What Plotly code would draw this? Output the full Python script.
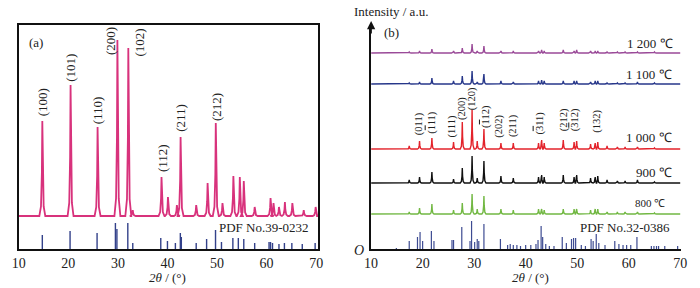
import plotly.graph_objects as go

W, H = 700, 288

# ---------------- Panel (a) data ----------------
a_peak_pos = [14.75, 20.45, 25.9, 29.9, 32.1, 33.0, 38.8, 40.1, 41.9, 42.65, 45.8, 48.1,
              49.75, 51.1, 53.3, 54.6, 55.4, 57.6, 60.8, 61.4, 62.5, 63.7, 65.2, 67.5, 69.9]
a_peak_int = [95, 131, 89, 176, 168, 6, 39, 19, 11, 79, 11, 33,
              93, 13, 40, 39, 35, 9, 18, 13, 9, 14, 13, 6, 9]
a_baseline = 33

a_stick_pos = [14.75, 20.35, 25.8, 29.5, 29.8, 32.0, 33.0, 38.65, 40.0, 41.6, 42.6, 42.8,
               45.8, 47.9, 49.7, 50.9, 53.2, 54.3, 55.4, 57.6, 60.5, 60.8, 61.2, 62.5,
               63.6, 65.1, 67.2, 69.8]
a_stick_int = [14, 18, 16, 26, 20, 26, 6, 11, 8, 6, 16, 12,
               6, 10, 19, 7, 11, 11, 10, 6, 7, 7, 6, 5,
               6, 6, 5, 6]

a_labels = ["(100)", "(101)", "(110)", "(200)", "(102)", "(112)", "(211)", "(212)"]

# ---------------- Panel (b) data ----------------
b_peak_pos = [17.4, 19.4, 21.8, 26.0, 27.7, 29.6, 30.6, 31.9, 35.2, 37.6, 42.5, 43.1,
              43.6, 47.3, 49.4, 49.9, 52.6, 53.5, 54.0, 55.8, 57.8, 59.3, 61.7, 65.0]
b_int_1000 = [3, 8, 11, 7, 27, 39, 8, 20, 6, 6, 6, 9, 6, 9, 7, 8, 5, 6, 7, 3, 2, 2, 2, 1]
b_int_900 = [3, 6, 11, 4, 15, 27, 5, 22, 7, 5, 6, 8, 6, 8, 6, 8, 5, 6, 7, 3, 2, 2, 3, 1]
b_int_800 = [2, 6, 10, 4, 11, 20, 5, 18, 5, 4, 5, 5, 4, 5, 5, 5, 4, 5, 5, 2, 2, 2, 2, 1]
b_int_1100 = [1, 2, 6, 3, 8, 13, 2, 10, 3, 2, 3, 4, 3, 3, 3, 3, 2, 3, 3, 1, 1, 1, 2, 1]
b_int_1200 = [1, 2, 4, 2, 5, 9, 2, 7, 2, 2, 2, 3, 2, 3, 2, 3, 2, 2, 2, 1, 1, 1, 1, 1]

b_series_names = ["1 200 ℃", "1 100 ℃", "1 000 ℃", "900 ℃", "800 ℃"]
b_offsets = [196, 165, 100, 66, 35]

b_stick_pos = [14.9, 17.4, 19.0, 19.5, 20.0, 21.7, 22.2, 25.7, 26.0, 27.6, 29.2, 29.5,
               30.1, 30.6, 30.9, 31.9, 35.1, 36.5, 37.0, 37.6, 38.3, 39.0, 40.0, 41.0,
               42.0, 42.4, 43.0, 43.3, 43.9, 44.6, 45.5, 47.1, 47.9, 48.9, 49.3, 49.7,
               50.8, 51.6, 52.7, 53.1, 53.7, 54.2, 55.4, 57.3, 58.1, 58.9, 59.6, 60.4,
               61.6, 64.4, 64.9, 65.4, 65.8, 67.0, 69.5]
b_stick_int = [1, 8, 12, 17, 8, 18, 8, 9, 9, 22, 8, 28,
               7, 10, 8, 25, 10, 4, 5, 4, 4, 3, 4, 4,
               5, 9, 23, 12, 5, 3, 3, 12, 6, 10, 11, 11,
               4, 3, 10, 8, 15, 6, 4, 8, 5, 4, 4, 4,
               12, 3, 3, 3, 3, 3, 3]

OV = '<span style="text-decoration:overline">{}</span>'
b_labels = ["(011)", "(" + OV.format("1") + "11)", "(111)", "(200)", "(120)",
            "(" + OV.format("1") + "12)", "(202)", "(211)", "(" + OV.format("3") + "11)",
            "(212)", "(" + OV.format("3") + "12)", "(132)"]

tick_vals = [10, 20, 30, 40, 50, 60, 70]


def profile(pos, ints, base, w, xmin=10.0, xmax=70.0):
    xs, ys = [xmin], [base]
    for p, h in sorted(zip(pos, ints)):
        xs += [p - w, p - 0.45 * w, p - 0.15 * w, p, p + 0.15 * w, p + 0.45 * w, p + w]
        ys += [base, base + 0.1 * h, base + 0.45 * h, base + h, base + 0.45 * h, base + 0.1 * h, base]
    xs.append(xmax)
    ys.append(base)
    return xs, ys


def sticks(pos, ints):
    xs, ys = [], []
    for p, h in zip(pos, ints):
        xs += [p, p, None]
        ys += [0, h, None]
    return xs, ys


def px(x):
    return x / W


def py(y):
    return 1 - y / H


fig = go.Figure()

# Panel (a)
xa, ya = profile(a_peak_pos, a_peak_int, a_baseline, 0.6)
fig.add_trace(go.Scatter(x=xa, y=ya, mode="lines", line=dict(color="#d8327c", width=1.8),
                         xaxis="x", yaxis="y", showlegend=False))
sx, sy = sticks(a_stick_pos, a_stick_int)
fig.add_trace(go.Scatter(x=sx, y=sy, mode="lines", line=dict(color="#33418a", width=1.4),
                         xaxis="x", yaxis="y", showlegend=False))

# Panel (b)
b_colors = ["#9a4a98", "#27378a", "#e3232b", "#111111", "#72b843"]
b_ints = [b_int_1200, b_int_1100, b_int_1000, b_int_900, b_int_800]
for name, off, col, ints in zip(b_series_names, b_offsets, b_colors, b_ints):
    xb, yb = profile(b_peak_pos, ints, off, 0.4)
    fig.add_trace(go.Scatter(x=xb, y=yb, mode="lines", line=dict(color=col, width=1.4),
                             xaxis="x2", yaxis="y2", name=name, showlegend=False))
sx, sy = sticks(b_stick_pos, b_stick_int)
fig.add_trace(go.Scatter(x=sx, y=sy, mode="lines", line=dict(color="#3d4b92", width=1.2),
                         xaxis="x2", yaxis="y2", showlegend=False))

serif = "Liberation Serif"
tickfont = dict(family=serif, size=14, color="#222")
ydom = [py(249), py(25)]

fig.update_layout(
    width=W, height=H, margin=dict(l=0, r=0, t=0, b=0),
    paper_bgcolor="white", plot_bgcolor="white",
    xaxis=dict(domain=[px(12), px(317)], range=[10, 70.4], tickvals=tick_vals,
               showline=True, mirror=True, linecolor="#111", linewidth=1.5,
               showgrid=False, zeroline=False, ticks="", tickfont=tickfont),
    yaxis=dict(domain=ydom, range=[0, 224], showline=True, mirror=True,
               linecolor="#111", linewidth=1.5, showgrid=False, zeroline=False,
               showticklabels=False, ticks=""),
    xaxis2=dict(domain=[px(371), px(687)], range=[10, 70.2], tickvals=tick_vals,
                showline=True, linecolor="#111", linewidth=1.5, anchor="y2",
                showgrid=False, zeroline=False, ticks="", tickfont=tickfont),
    yaxis2=dict(domain=ydom, range=[0, 224], anchor="x2", showline=True,
                linecolor="#111", linewidth=1.5, showgrid=False, zeroline=False,
                showticklabels=False, ticks=""),
)

ann = []


def text(x, y, t, size=13, angle=0, xanchor="center", italic=False, color="#222"):
    ann.append(dict(x=px(x), y=py(y), xref="paper", yref="paper", text=t,
                    showarrow=False, textangle=angle, xanchor=xanchor, yanchor="middle",
                    font=dict(family=serif, size=size, color=color,
                              style="italic" if italic else "normal")))


# panel (a) labels
a_lab_xy = [(36, 102), (64, 68), (92, 110), (105, 41), (135, 42), (158, 158), (176, 118), (213, 107)]
for lab, (x, y) in zip(a_labels, a_lab_xy):
    text(x, y, lab, size=13, angle=-90)
text(30, 42, "(a)", size=13)
text(310, 227, "PDF No.39-0232", size=13, xanchor="right")
text(164, 277, "<i>2θ</i> / (°)", size=13)

# panel (b) labels
b_lab_xy = [(420, 124), (432.7, 123), (453, 127), (463.5, 108), (474, 99), (488, 116),
            (501, 126), (515.7, 126), (542.7, 123), (567.7, 120), (579, 120), (601, 121)]
for lab, (x, y) in zip(b_labels, b_lab_xy):
    text(x, y, lab, size=10.5, angle=-90)
text(392, 32, "(b)", size=13)
text(352, 12, "Intensity / a.u.", size=13, xanchor="left")
name_xy = [(681, 43), (680, 74), (680, 137), (680, 172), (672, 203)]
for nm, (x, y) in zip(b_series_names, name_xy):
    text(x, y, nm, size=11 if nm.startswith("800") else 13, xanchor="right")
text(678, 227, "PDF No.32-0386", size=13, xanchor="right")
text(533, 277, "<i>2θ</i> / (°)", size=13)
text(359, 250, "O", size=14, italic=True)

# y-axis arrow of panel (b)
ann.append(dict(x=10, y=py(21), xref="x2", yref="paper", ax=0, ay=14, text="",
                showarrow=True, arrowhead=2, arrowsize=1.1, arrowwidth=1.5,
                arrowcolor="#111"))

fig.update_layout(annotations=ann)
fig.write_html("out.html", config={"displayModeBar": False},
               post_script="document.body.style.margin='0';document.body.style.overflow='hidden';")
